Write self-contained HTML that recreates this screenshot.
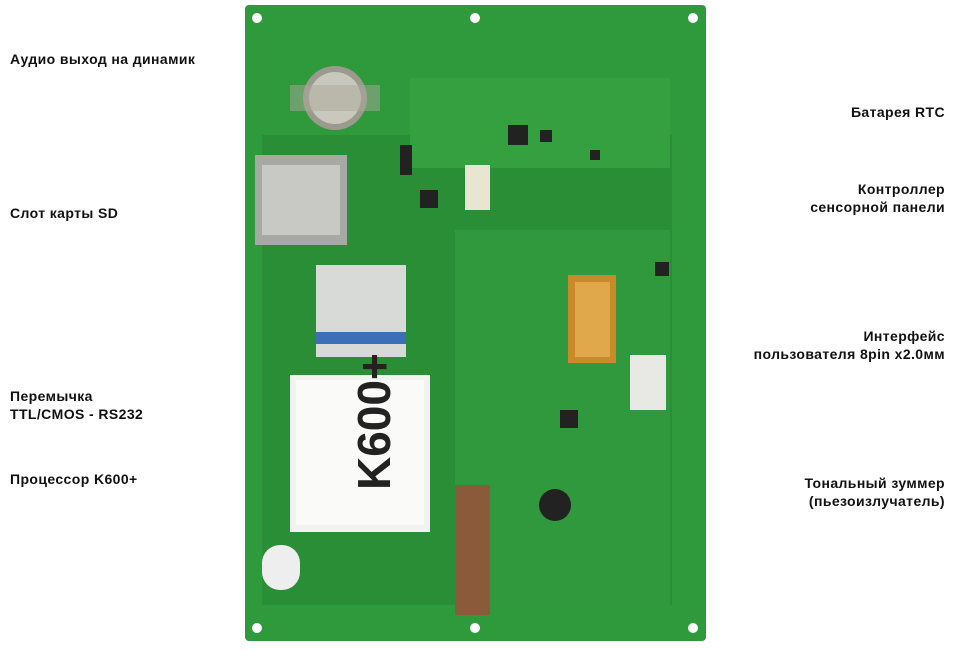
<!DOCTYPE html>
<html><head><meta charset="utf-8"><style>
body{margin:0;width:955px;height:650px;background:#fff;position:relative;overflow:hidden;font-family:"Liberation Sans",sans-serif}
.l{position:absolute;font-size:14px;font-weight:bold;color:#111;line-height:18px;letter-spacing:0.4px}
.r{text-align:right;right:10px}
</style></head><body>
<svg width="955" height="650" style="position:absolute;left:0;top:0">
<rect x="245" y="5" width="461" height="636" rx="4" fill="#2f9a3c"/>
<rect x="262" y="135" width="410" height="470" fill="#2a8e36"/>
<rect x="410" y="78" width="260" height="90" fill="#34a040"/>
<rect x="455" y="230" width="215" height="375" fill="#31993d"/>
<g fill="#fff"><circle cx="257" cy="18" r="5"/><circle cx="693" cy="18" r="5"/><circle cx="257" cy="628" r="5"/><circle cx="693" cy="628" r="5"/><circle cx="475" cy="18" r="5"/><circle cx="475" cy="628" r="5"/></g>
<circle cx="335" cy="98" r="32" fill="#9a9a8e"/><circle cx="335" cy="98" r="26" fill="#c9c8bc"/>
<rect x="290" y="85" width="90" height="26" fill="#a9a79a" opacity=".5"/>
<rect x="255" y="155" width="92" height="90" fill="#a8a8a4"/><rect x="262" y="165" width="78" height="70" fill="#c8c8c4"/>
<rect x="316" y="265" width="90" height="92" fill="#d8dad8"/><rect x="316" y="332" width="90" height="12" fill="#3d6fb8"/>
<rect x="290" y="375" width="140" height="157" fill="#f2f2ee"/><rect x="296" y="380" width="128" height="145" fill="#fafaf8"/>
<text x="330" y="510" font-size="46" font-family="Liberation Sans" font-weight="bold" transform="rotate(-90 350 470)" fill="#222">K600+</text>
<rect x="568" y="275" width="48" height="88" fill="#c88a2a"/><rect x="575" y="282" width="35" height="75" fill="#e0a84a"/>
<rect x="630" y="355" width="36" height="55" fill="#e8e8e4"/>
<rect x="455" y="485" width="35" height="130" fill="#8a5a3a"/>
<rect x="465" y="165" width="25" height="45" fill="#e8e6d0"/>
<circle cx="555" cy="505" r="16" fill="#222"/>
<g fill="#222"><rect x="420" y="190" width="18" height="18"/><rect x="508" y="125" width="20" height="20"/><rect x="560" y="410" width="18" height="18"/><rect x="400" y="145" width="12" height="30"/><rect x="655" y="262" width="14" height="14"/><rect x="540" y="130" width="12" height="12"/><rect x="590" y="150" width="10" height="10"/></g>
<rect x="262" y="545" width="38" height="45" rx="18" fill="#eee"/>
</svg>
<div class="l" style="left:10px;top:50px">Аудио выход на динамик</div>
<div class="l" style="left:10px;top:204px">Слот карты SD</div>
<div class="l" style="left:10px;top:387px">Перемычка<br>TTL/CMOS - RS232</div>
<div class="l" style="left:10px;top:470px">Процессор K600+</div>
<div class="l r" style="top:103px">Батарея RTC</div>
<div class="l r" style="top:180px">Контроллер<br>сенсорной панели</div>
<div class="l r" style="top:327px">Интерфейс<br>пользователя 8pin x2.0мм</div>
<div class="l r" style="top:474px">Тональный зуммер<br>(пьезоизлучатель)</div>
</body></html>
